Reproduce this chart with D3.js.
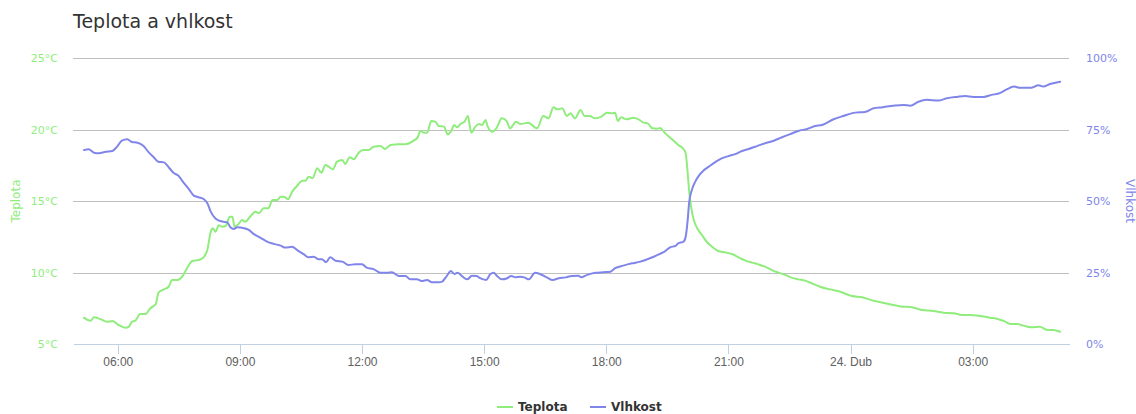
<!doctype html>
<html>
<head>
    <meta charset="utf-8">
    <title>Teplota a vhlkost</title>
    <style>
        body {
            margin: 0;
            background: #FFFFFF;
            font-family: "DejaVu Sans", Verdana, sans-serif;
        }

        .grid line {
            stroke: #C0C0C0;
            stroke-width: 1;
            shape-rendering: crispEdges;
        }

        .x-axis path,
        .x-axis line {
            stroke: #C0D0E0;
            shape-rendering: crispEdges;
        }

        .x-axis text {
            fill: #606060;
            font-size: 12px;
        }

        path.series {
            fill: none;
            stroke-width: 2;
            stroke-linejoin: round;
            stroke-linecap: round;
        }
    </style>
</head>
<body>
    <div id="chart"></div>

    <script src="https://cdn.jsdelivr.net/npm/d3@7"></script>
    <script>
        // minutes after 23.4. 00:00
        var temp_times = [310, 320, 325, 335, 344, 352, 361, 371, 376, 381, 386, 393, 401, 408, 416, 420,
            428, 435, 440, 448, 455, 462, 470, 479, 487, 492, 497, 500, 504, 509, 514, 519, 525, 529,
            532, 538, 543, 548, 555, 563, 568, 575, 582, 588, 595, 600, 605, 611, 617, 624, 632, 637,
            641, 647, 654, 660, 666, 671, 677, 683, 691, 695, 702, 708, 715, 722, 730, 737, 747, 754,
            762, 772, 786, 796, 802, 806, 811, 816, 822, 828, 833, 841, 846, 851, 856, 860, 865, 871,
            876, 881, 887, 893, 897, 902, 905, 912, 918, 926, 933, 938, 947, 953, 965, 978, 987, 995,
            1002, 1008, 1015, 1022, 1027, 1034, 1042, 1048, 1056, 1063, 1074, 1081, 1088, 1093, 1097,
            1102, 1110, 1120, 1127, 1135, 1141, 1148, 1155, 1159, 1167, 1177, 1186, 1194, 1197, 1200,
            1202, 1205, 1209, 1214, 1221, 1228, 1236, 1245, 1255, 1265, 1275, 1285, 1295, 1304, 1314,
            1324, 1334, 1344, 1353, 1363, 1373, 1383, 1395, 1410, 1425, 1442, 1457, 1474, 1488, 1503,
            1516, 1528, 1545, 1562, 1577, 1592, 1604, 1616, 1631, 1646, 1658, 1668, 1675, 1685, 1697,
            1707, 1719, 1730, 1739, 1749];

        var temp_values = [6.84, 6.63, 6.87, 6.73, 6.56, 6.6, 6.33, 6.14, 6.2, 6.56, 6.63, 7.1, 7.1, 7.5,
            7.8, 8.59, 8.82, 9.0, 9.48, 9.48, 9.71, 10.3, 10.8, 10.87, 11.1, 11.57, 12.85, 13.09, 12.85,
            13.3, 13.2, 13.25, 13.9, 13.9, 13.2, 13.39, 13.67, 13.55, 13.9, 14.25, 14.14, 14.49, 14.49,
            15.07, 15.07, 15.3, 15.3, 15.12, 15.65, 16.05, 16.42, 16.42, 16.7, 16.59, 17.29, 16.98, 17.52,
            17.4, 17.21, 17.75, 17.87, 17.59, 18.06, 17.92, 18.38, 18.57, 18.57, 18.8, 18.85, 18.64,
            18.92, 18.96, 18.99, 19.22, 19.45, 19.9, 19.78, 19.78, 20.6, 20.55, 20.24, 20.2, 19.66, 19.85,
            20.31, 20.15, 20.38, 20.55, 20.94, 19.78, 20.2, 20.38, 20.31, 20.66, 20.24, 19.85, 20.08,
            20.78, 20.6, 20.08, 20.55, 20.38, 20.48, 20.08, 20.94, 20.78, 21.55, 21.41, 21.48, 20.94,
            21.13, 20.78, 21.36, 20.94, 20.94, 20.78, 20.94, 21.17, 21.13, 21.17, 20.6, 20.85, 20.71,
            20.83, 20.73, 20.48, 20.43, 20.08, 20.06, 20.1, 19.73, 19.31, 18.92, 18.62, 18.34, 16.94,
            15.77, 14.6, 13.67, 13.09, 12.62, 12.15, 11.8, 11.5, 11.41, 11.29, 11.06, 10.83, 10.69, 10.57,
            10.41, 10.17, 9.99, 9.83, 9.64, 9.52, 9.43, 9.24, 9.0, 8.82, 8.65, 8.36, 8.27, 8.03, 7.89,
            7.73, 7.61, 7.59, 7.38, 7.31, 7.19, 7.15, 7.03, 7.03, 6.96, 6.84, 6.73, 6.56, 6.4, 6.4, 6.26,
            6.17, 6.2, 5.98, 5.98, 5.86];

        var hum_times = [310, 317, 325, 332, 342, 352, 359, 366, 374, 381, 389, 398, 406, 413, 420, 428,
            435, 442, 450, 457, 465, 472, 479, 487, 492, 497, 504, 514, 521, 526, 531, 536, 546, 553,
            560, 570, 580, 590, 600, 607, 617, 624, 634, 641, 649, 656, 661, 667, 673, 681, 691, 700,
            710, 720, 727, 737, 747, 757, 764, 774, 784, 791, 801, 808, 816, 823, 833, 838, 844, 851,
            856, 861, 867, 875, 882, 889, 894, 903, 909, 914, 919, 926, 934, 940, 946, 953, 959, 966,
            975, 983, 993, 1001, 1010, 1020, 1029, 1039, 1043, 1051, 1064, 1076, 1086, 1093, 1105, 1118,
            1130, 1140, 1150, 1159, 1167, 1174, 1182, 1186, 1194, 1197, 1200, 1202, 1206, 1211, 1216,
            1223, 1231, 1240, 1250, 1260, 1270, 1280, 1290, 1302, 1314, 1326, 1339, 1351, 1363, 1376,
            1388, 1398, 1415, 1429, 1447, 1461, 1474, 1488, 1503, 1518, 1528, 1540, 1552, 1569, 1582,
            1597, 1609, 1621, 1636, 1648, 1660, 1670, 1681, 1690, 1707, 1717, 1724, 1734, 1749];

        var hum_values = [67.8, 68.1, 66.9, 66.7, 67.2, 67.5, 69.0, 71.1, 71.6, 70.6, 70.4, 69.2, 66.9,
            65.3, 63.7, 63.5, 61.8, 59.9, 58.7, 56.4, 54.1, 51.9, 51.3, 50.6, 49.2, 46.3, 43.9, 42.8,
            42.6, 40.8, 40.2, 40.8, 40.5, 39.9, 38.5, 37.2, 35.8, 35.0, 34.4, 33.7, 34.0, 32.9, 31.4,
            30.3, 30.5, 29.6, 29.6, 28.6, 30.3, 29.1, 28.8, 27.6, 27.9, 27.9, 26.7, 26.2, 24.9, 24.9,
            25.1, 23.8, 23.8, 22.6, 22.6, 22.0, 22.4, 21.6, 21.6, 21.8, 23.5, 25.5, 24.5, 24.9, 23.8,
            22.6, 23.9, 23.8, 23.0, 22.4, 24.4, 24.9, 23.8, 22.6, 23.0, 23.8, 23.3, 23.5, 23.3, 22.6,
            24.9, 24.4, 23.2, 22.4, 23.0, 23.3, 23.8, 23.9, 23.3, 24.1, 24.9, 25.1, 25.3, 26.5, 27.4,
            28.2, 28.8, 29.6, 30.5, 31.5, 32.5, 33.8, 34.3, 35.2, 35.8, 37.5, 43.4, 49.2, 53.8, 56.7,
            58.7, 60.6, 62.0, 63.5, 64.9, 65.7, 66.4, 67.5, 68.2, 69.2, 70.2, 71.0, 72.3, 73.4, 74.5,
            75.2, 76.2, 76.6, 78.6, 79.7, 80.9, 81.1, 82.4, 82.8, 83.3, 83.6, 83.3, 84.7, 85.4, 85.1,
            85.9, 86.4, 86.7, 86.4, 86.4, 87.1, 87.7, 89.0, 90.0, 89.6, 89.6, 90.5, 90.0, 90.9, 91.7];

        var temp_ticks = [5, 10, 15, 20, 25];
        var hum_ticks = [0, 25, 50, 75, 100];
        var month_names = ['Led', 'Úno', 'Bře', 'Dub', 'Kvě', 'Čvn', 'Čvc', 'Srp', 'Zář', 'Říj', 'Lis', 'Pro'];
        var series_names = ['Teplota', 'Vlhkost'];
        var series_colors = ['#90ED7D', '#8085E9'];

        var svg_width = 1136;
        var svg_height = 414;
        var plot = { left: 73, right: 1069, top: 58, bottom: 344 };

        function minutes_to_date(m) {
            return new Date(2016, 3, 23, 0, m);
        }

        var x = d3.scaleTime()
            .domain([minutes_to_date(294.7), minutes_to_date(1762)])
            .range([plot.left, plot.right]);

        var y_temp = d3.scaleLinear().domain([5, 25]).range([plot.bottom, plot.top]);
        var y_hum = d3.scaleLinear().domain([0, 100]).range([plot.bottom, plot.top]);

        var svg = d3.select('#chart').append('svg')
            .attr('width', svg_width)
            .attr('height', svg_height);

        svg.append('text')
            .attr('x', plot.left)
            .attr('y', 28)
            .attr('fill', '#333333')
            .style('font-size', '19px')
            .text('Teplota a vhlkost');

        svg.append('g')
            .attr('class', 'grid')
          .selectAll('line')
            .data(temp_ticks.slice(1))
          .enter().append('line')
            .attr('x1', plot.left)
            .attr('x2', plot.right)
            .attr('y1', function(d) { return Math.round(y_temp(d)) + 0.5; })
            .attr('y2', function(d) { return Math.round(y_temp(d)) + 0.5; });

        function x_format(d) {
            if (d.getHours() === 0) {
                return d.getDate() + '. ' + month_names[d.getMonth()];
            }
            return d3.timeFormat('%H:%M')(d);
        }

        var x_axis = svg.append('g')
            .attr('class', 'x-axis')
            .attr('transform', 'translate(0,' + plot.bottom + ')')
            .call(d3.axisBottom(x)
                .ticks(d3.timeHour.every(3))
                .tickSizeInner(10)
                .tickSizeOuter(0)
                .tickPadding(3)
                .tickFormat(x_format));

        // left axis labels
        svg.append('g')
          .selectAll('text')
            .data(temp_ticks)
          .enter().append('text')
            .attr('x', 58)
            .attr('y', function(d) { return y_temp(d) + 4; })
            .attr('text-anchor', 'end')
            .attr('fill', series_colors[0])
            .style('font-size', '11px')
            .text(function(d) { return d + '°C'; });

        svg.append('g')
          .selectAll('text')
            .data(hum_ticks)
          .enter().append('text')
            .attr('x', 1086)
            .attr('y', function(d) { return y_hum(d) + 4; })
            .attr('fill', series_colors[1])
            .style('font-size', '11px')
            .text(function(d) { return d + '%'; });

        svg.append('text')
            .attr('transform', 'translate(20,' + ((plot.top + plot.bottom) / 2) + ') rotate(-90)')
            .attr('text-anchor', 'middle')
            .attr('fill', series_colors[0])
            .style('font-size', '12px')
            .text(series_names[0]);

        svg.append('text')
            .attr('transform', 'translate(1126,' + ((plot.top + plot.bottom) / 2) + ') rotate(90)')
            .attr('text-anchor', 'middle')
            .attr('fill', series_colors[1])
            .style('font-size', '12px')
            .text(series_names[1]);

        svg.append('clipPath')
            .attr('id', 'plot-clip')
          .append('rect')
            .attr('x', plot.left)
            .attr('y', plot.top - 5)
            .attr('width', plot.right - plot.left)
            .attr('height', plot.bottom - plot.top + 5);

        var temp_data = temp_times.map(function(t, i) {
            return [minutes_to_date(t), temp_values[i]];
        });
        var hum_data = hum_times.map(function(t, i) {
            return [minutes_to_date(t), hum_values[i]];
        });

        var temp_line = d3.line()
            .curve(d3.curveMonotoneX)
            .x(function(d) { return x(d[0]); })
            .y(function(d) { return y_temp(d[1]); });

        var hum_line = d3.line()
            .curve(d3.curveMonotoneX)
            .x(function(d) { return x(d[0]); })
            .y(function(d) { return y_hum(d[1]); });

        var lines = svg.append('g').attr('clip-path', 'url(#plot-clip)');

        lines.append('path')
            .attr('class', 'series')
            .attr('stroke', series_colors[0])
            .attr('d', temp_line(temp_data));

        lines.append('path')
            .attr('class', 'series')
            .attr('stroke', series_colors[1])
            .attr('d', hum_line(hum_data));

        // legend
        var legend_x = [497, 590];
        var legend = svg.append('g')
          .selectAll('g')
            .data(series_names)
          .enter().append('g')
            .attr('transform', function(d, i) { return 'translate(' + legend_x[i] + ',407)'; });

        legend.append('line')
            .attr('x1', 0)
            .attr('x2', 16)
            .attr('stroke', function(d, i) { return series_colors[i]; })
            .attr('stroke-width', 2);

        legend.append('text')
            .attr('x', 21)
            .attr('y', 4)
            .attr('fill', '#333333')
            .style('font-size', '12px')
            .style('font-weight', 'bold')
            .text(function(d) { return d; });
    </script>
</body>
</html>
